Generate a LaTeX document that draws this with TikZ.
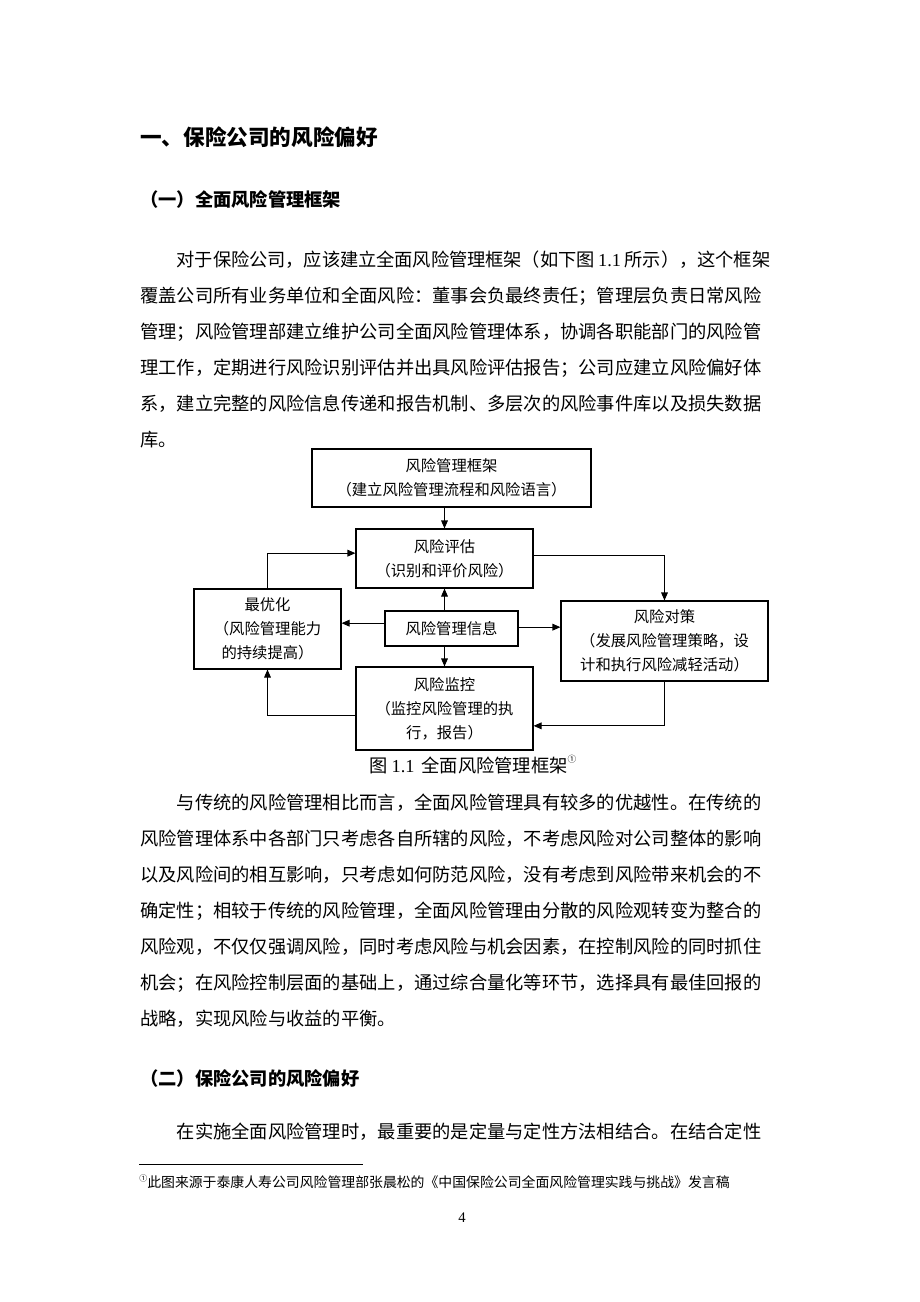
\documentclass[tikz,border=0pt]{standalone}
\usepackage{fontspec}
\setmainfont{Noto Sans CJK SC}
\newfontfamily\lat{Liberation Serif}
\usetikzlibrary{arrows.meta}
\XeTeXlinebreaklocale "zh"
\XeTeXlinebreakskip=0pt plus 5pt minus 1pt
\newcommand\bodyf{\fontsize{13.7pt}{16pt}\selectfont}
\newcommand\diagf{\fontsize{11.5pt}{18pt}\selectfont}
\tikzset{
  jl/.style={anchor=west, inner sep=0pt, text width=472.5pt, align=justify, font=\bodyf},
  pl/.style={anchor=west, inner sep=0pt, font=\bodyf},
  h1/.style={anchor=west, inner sep=0pt, font=\fontsize{16.2pt}{18pt}\selectfont\bfseries},
  h2/.style={anchor=west, inner sep=0pt, font=\fontsize{13.7pt}{16pt}\selectfont\bfseries},
  box/.style 2 args={draw, line width=0.8pt, inner sep=1pt, align=center, font=\diagf,
    minimum width=#1*0.75pt, minimum height=#2*0.75pt},
  arr/.style={line width=0.8pt, -{Triangle[length=6pt,width=5pt]}},
}
\newcommand\fnmark{\raisebox{0.55em}{\fontsize{6.5pt}{7pt}\selectfont ①}}
\begin{document}
\begin{tikzpicture}[x=0.75pt,y=-0.75pt]
\useasboundingbox (0,0) rectangle (920,1302);
\fill[white] (0,0) rectangle (920,1302);

% headings and first paragraph
\node[h1] (t1) at (140,137) {一、保险公司的风险偏好};
\node[h2] (t2) at (140,200) {（一）全面风险管理框架};
\node[jl] (p1a) at (140,260) {\parfillskip=0pt\noindent\hspace*{2em}对于保险公司，应该建立全面风险管理框架（如下图\hspace{0.2em}{\lat 1.1}\hspace{0.2em}所示），这个框架};
\node[jl] (p1b) at (140,296) {\parfillskip=0pt\noindent 覆盖公司所有业务单位和全面风险：董事会负最终责任；管理层负责日常风险};
\node[jl] (p1c) at (140,332) {\parfillskip=0pt\noindent 管理；风险管理部建立维护公司全面风险管理体系，协调各职能部门的风险管};
\node[jl] (p1d) at (140,368) {\parfillskip=0pt\noindent 理工作，定期进行风险识别评估并出具风险评估报告；公司应建立风险偏好体};
\node[jl] (p1e) at (140,404) {\parfillskip=0pt\noindent 系，建立完整的风险信息传递和报告机制、多层次的风险事件库以及损失数据};
\node[pl] (p1f) at (140,440) {库。};

% diagram
\node[box={279}{58}] (fw) at (451.5,478) {风险管理框架\\（建立风险管理流程和风险语言）};
\node[box={177}{59}] (pg) at (444.5,558.5) {风险评估\\（识别和评价风险）};
\node[box={147}{80}] (yh) at (267.5,629) {最优化\\（风险管理能力\\的持续提高）};
\node[box={133}{35}] (xx) at (451.5,628.5) {风险管理信息};
\node[box={207}{80}] (dc) at (664.5,641) {风险对策\\（发展风险管理策略，设\\计和执行风险减轻活动）};
\node[box={177}{83}] (jk) at (444.5,708.5) {风险监控\\（监控风险管理的执\\行，报告）};

\draw[arr] (fw.south -| pg.north) -- (pg.north);
\draw[arr] (yh.north) |- ([yshift=4pt]pg.west);
\draw[arr] ([yshift=2.6pt]pg.east) -| (dc.north);
\draw[arr] (xx.north -| pg.south) -- (pg.south);
\draw[arr] ([yshift=4pt]xx.west) -- ([yshift=4pt]xx.west -| yh.east);
\draw[arr] ([yshift=1pt]xx.east) -- ([yshift=1pt]xx.east -| dc.west);
\draw[arr] (xx.south -| jk.north) -- (jk.north);
\draw[arr] (dc.south) |- ([yshift=-13pt]jk.east);
\draw[arr] ([yshift=-4.9pt]jk.west) -| (yh.south);

\node[pl] (cap) at (369,765) {图 {\lat 1.1} \,全面风险管理框架\fnmark};

% second paragraph
\node[jl] (p2a) at (140,803) {\parfillskip=0pt\noindent\hspace*{2em}与传统的风险管理相比而言，全面风险管理具有较多的优越性。在传统的};
\node[jl] (p2b) at (140,839) {\parfillskip=0pt\noindent 风险管理体系中各部门只考虑各自所辖的风险，不考虑风险对公司整体的影响};
\node[jl] (p2c) at (140,875) {\parfillskip=0pt\noindent 以及风险间的相互影响，只考虑如何防范风险，没有考虑到风险带来机会的不};
\node[jl] (p2d) at (140,911) {\parfillskip=0pt\noindent 确定性；相较于传统的风险管理，全面风险管理由分散的风险观转变为整合的};
\node[jl] (p2e) at (140,947) {\parfillskip=0pt\noindent 风险观，不仅仅强调风险，同时考虑风险与机会因素，在控制风险的同时抓住};
\node[jl] (p2f) at (140,983) {\parfillskip=0pt\noindent 机会；在风险控制层面的基础上，通过综合量化等环节，选择具有最佳回报的};
\node[pl] (p2g) at (140,1019) {战略，实现风险与收益的平衡。};

\node[h2] (t3) at (140,1078) {（二）保险公司的风险偏好};
\node[jl] (p3a) at (140,1132) {\parfillskip=0pt\noindent\hspace*{2em}在实施全面风险管理时，最重要的是定量与定性方法相结合。在结合定性};

% footnote
\coordinate (fr1) at (139,1164);
\coordinate (fr2) at (363,1164);
\draw[line width=0.7pt] (fr1) -- (fr2);
\node[anchor=west, inner sep=0pt, font=\fontsize{10.4pt}{12pt}\selectfont] (fn) at (139,1182)
  {\raisebox{0.45em}{\fontsize{6pt}{7pt}\selectfont ①}此图来源于泰康人寿公司风险管理部张晨松的《中国保险公司全面风险管理实践与挑战》发言稿};
\node[inner sep=0pt, font=\lat\fontsize{11pt}{12pt}\selectfont] (pn) at (462,1218) {4};
\end{tikzpicture}
\end{document}
